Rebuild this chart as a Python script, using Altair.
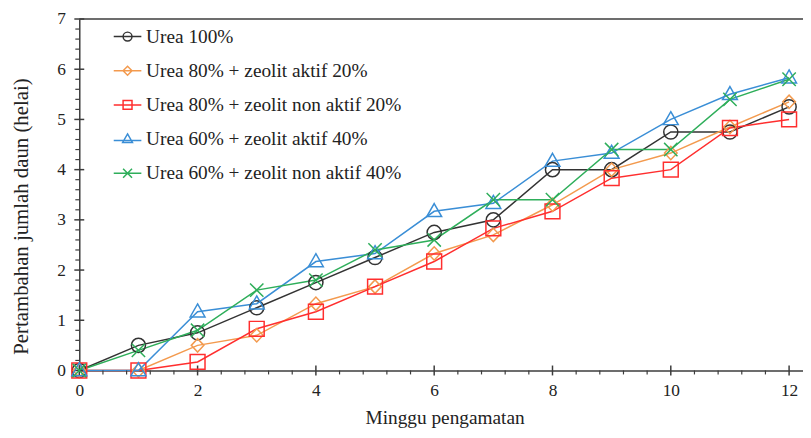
import altair as alt
import pandas as pd

weeks = list(range(13))
series_names = [
    "Urea 100%",
    "Urea 80% + zeolit aktif 20%",
    "Urea 80% + zeolit non aktif 20%",
    "Urea 60% + zeolit aktif 40%",
    "Urea 60% + zeolit non aktif 40%",
]
urea100 = [0, 0.5, 0.75, 1.25, 1.75, 2.25, 2.75, 3.0, 4.0, 4.0, 4.75, 4.75, 5.25]
u80_aktif = [0, 0, 0.5, 0.7, 1.33, 1.67, 2.33, 2.7, 3.3, 4.0, 4.33, 4.85, 5.35]
u80_non = [0, 0, 0.17, 0.83, 1.17, 1.67, 2.17, 2.83, 3.17, 3.83, 4.0, 4.83, 5.0]
u60_aktif = [0, 0, 1.17, 1.33, 2.17, 2.33, 3.17, 3.33, 4.17, 4.33, 5.0, 5.5, 5.83]
u60_non = [0, 0.4, 0.8, 1.6, 1.8, 2.4, 2.6, 3.4, 3.4, 4.4, 4.4, 5.4, 5.8]
all_series = [urea100, u80_aktif, u80_non, u60_aktif, u60_non]

# axis tick positions (data units)
x_major = [0, 2, 4, 6, 8, 10, 12]
x_minor = [round(i * 0.4, 1) for i in range(31) if i % 5 != 0]
y_major = [0, 1, 2, 3, 4, 5, 6, 7]
y_minor = [round(i * 0.2, 1) for i in range(36) if i % 5 != 0]

colors = ["#333333", "#F39A4E", "#FF2E2E", "#3A8ED6", "#2EAE5A"]

plot_shapes = [
    "M0.95,0A0.95,0.95,0,1,1,-0.95,0A0.95,0.95,0,1,1,0.95,0Z",
    "M-0.85,0L0,-0.9L0.85,0L0,0.9Z",
    "M-1,-1L1,-1L1,1L-1,1Z",
    "M0,-1.05L1,0.7L-1,0.7Z",
    "M-0.9,-0.9L0.9,0.9M-0.9,0.9L0.9,-0.9",
]
legend_shapes = [
    "M-3.1,0L3.1,0M1,0A1,1,0,1,1,-1,0A1,1,0,1,1,1,0Z",
    "M-3.1,0L3.1,0M-1,0L0,-1L1,0L0,1Z",
    "M-3.1,0L3.1,0M-1,-1L1,-1L1,1L-1,1Z",
    "M-3.1,0.35L3.1,0.35M0,-1.15L1.1,0.75L-1.1,0.75Z",
    "M-3.1,0L3.1,0M-1,-1L1,1M-1,1L1,-1",
]

rows = []
for name, vals in zip(series_names, all_series):
    for w, v in zip(weeks, vals):
        rows.append({"week": w, "value": v, "series": name})
df = pd.DataFrame(rows)

FONT = "Liberation Serif"
AX = "#3c3c3c"
W, H = 731, 355

x_scale = alt.Scale(domain=[0, 12.235], nice=False, zero=False)
y_scale = alt.Scale(domain=[0, 7], nice=False)

x_enc = alt.X(
    "week:Q",
    scale=x_scale,
    axis=alt.Axis(
        title="Minggu pengamatan",
        values=x_major,
        format="d",
        labelPadding=11,
        titlePadding=10,
        titleX=369,
    ),
)
y_enc = alt.Y(
    "value:Q",
    scale=y_scale,
    axis=alt.Axis(
        title="Pertambahan jumlah daun (helai)",
        values=y_major,
        format="d",
        labelPadding=14,
        titlePadding=26,
        titleFontSize=21,
        titleY=199,
    ),
)

color_scale = alt.Scale(domain=series_names, range=colors)

lines = alt.Chart(df).mark_line(strokeWidth=1.5).encode(
    x=x_enc,
    y=y_enc,
    color=alt.Color("series:N", scale=color_scale, legend=None, sort=series_names),
    order="week:Q",
)

points = alt.Chart(df).mark_point(filled=False, strokeWidth=1.5, size=225, opacity=1).encode(
    x="week:Q",
    y="value:Q",
    color=alt.Color("series:N", scale=color_scale, legend=None, sort=series_names),
    shape=alt.Shape("series:N", scale=alt.Scale(domain=series_names, range=plot_shapes), legend=None),
)

leg = alt.Legend(
    title=None,
    orient="none",
    legendX=39,
    legendY=8,
    labelFont=FONT,
    labelFontSize=19.5,
    labelColor="#222222",
    labelOffset=9,
    rowPadding=13.5,
    symbolSize=81,
    symbolStrokeWidth=1.5,
    padding=0,
    labelLimit=500,
)

legend_layer = alt.Chart(df).transform_filter("false").mark_point(
    filled=False, strokeWidth=1.5, size=81, opacity=1
).encode(
    x="week:Q",
    y="value:Q",
    color=alt.Color("series:N", scale=color_scale, sort=series_names, legend=leg),
    shape=alt.Shape(
        "series:N",
        scale=alt.Scale(domain=series_names, range=legend_shapes),
        sort=series_names,
        legend=leg,
    ),
)

top_rule = alt.Chart(pd.DataFrame({"value": [7]})).mark_rule(color=AX, strokeWidth=1.5).encode(
    y="value:Q"
)

xmaj = alt.Chart(pd.DataFrame({"week": x_major})).mark_rule(color=AX, strokeWidth=1.5).encode(
    x="week:Q", y=alt.value(H - 5), y2=alt.value(H + 5)
)
xmin = alt.Chart(pd.DataFrame({"week": x_minor})).mark_rule(color=AX, strokeWidth=1.2).encode(
    x="week:Q", y=alt.value(H), y2=alt.value(H + 4)
)
ymaj = alt.Chart(pd.DataFrame({"value": y_major})).mark_rule(color=AX, strokeWidth=1.5).encode(
    y="value:Q", x=alt.value(-5), x2=alt.value(5)
)
ymin = alt.Chart(pd.DataFrame({"value": y_minor})).mark_rule(color=AX, strokeWidth=1.2).encode(
    y="value:Q", x=alt.value(-4), x2=alt.value(0)
)

chart = (
    alt.layer(lines, top_rule, xmaj, xmin, ymaj, ymin, points, legend_layer)
    .resolve_scale(color="independent", shape="independent")
    .properties(
        width=W,
        height=H,
        autosize=alt.AutoSizeParams(type="none"),
        padding={"left": 72, "top": 9, "right": 0, "bottom": 58},
    )
    .configure_view(stroke=None)
    .configure_axis(
        domainColor=AX,
        domainWidth=1.5,
        ticks=False,
        tickSize=0,
        grid=False,
        labelOverlap=False,
        labelFlush=False,
        labelFont=FONT,
        labelFontSize=17.5,
        labelColor="#222222",
        titleFont=FONT,
        titleFontSize=19.5,
        titleFontWeight="normal",
        titleColor="#222222",
    )
)

chart.save("out.html", embed_options={"renderer": "svg", "actions": False})
